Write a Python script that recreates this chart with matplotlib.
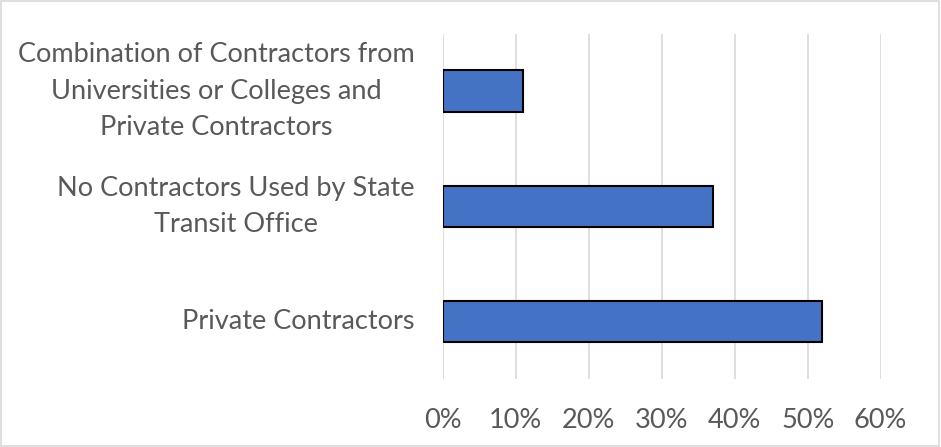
import matplotlib.pyplot as plt
from matplotlib.ticker import PercentFormatter, MultipleLocator

categories = [
    "Private Contractors",
    "No Contractors Used by State\nTransit Office",
    "Combination of Contractors from\nUniversities or Colleges and\nPrivate Contractors",
]
shares = [0.52, 0.37, 0.11]

plt.rcParams['font.family'] = ['Lato', 'DejaVu Sans']

fig = plt.figure(figsize=(9.41, 4.47), dpi=100)
ax = fig.add_axes([0.4705, 0.1521, 0.4654, 0.7729])

ax.barh(range(len(categories)), shares, height=0.36, color='#4472C4',
        edgecolor='black', linewidth=1.5, zorder=3)

ax.set_xlim(0, 0.6)
ax.set_ylim(-0.5, len(categories) - 0.5)
ax.xaxis.set_major_locator(MultipleLocator(0.1))
ax.xaxis.set_major_formatter(PercentFormatter(1.0, decimals=0))
ax.set_yticks(range(len(categories)))
ax.set_yticklabels(categories, linespacing=1.57, multialignment='center', va='center')

ax.grid(axis='x', color='#d9d9d9', linewidth=1.2, zorder=0)
for s in ax.spines.values():
    s.set_visible(False)
ax.tick_params(axis='both', length=0, labelsize=19.5, labelcolor='#595959')
ax.tick_params(axis='y', pad=20)
ax.tick_params(axis='x', pad=21)

# thin frame round the whole chart
fig.patches.append(plt.Rectangle((0.001, 0.002), 0.997, 0.995, transform=fig.transFigure,
                                 fill=False, edgecolor='#d9d9d9', linewidth=1.2))

fig.savefig('out.png', dpi=100)
